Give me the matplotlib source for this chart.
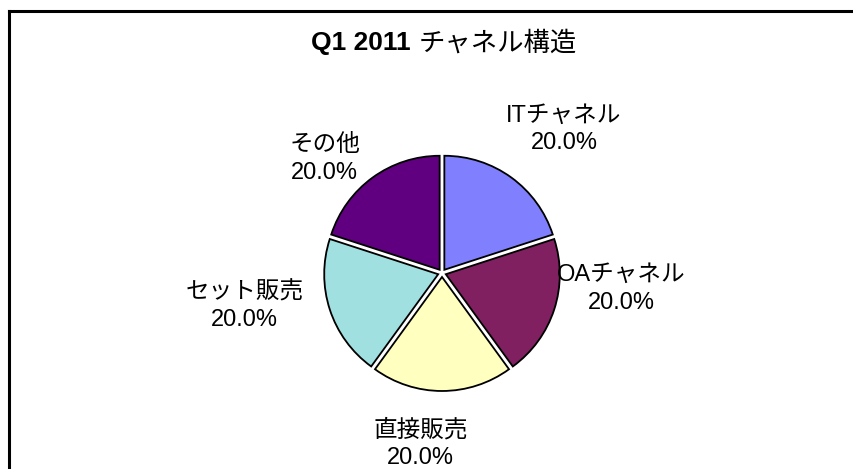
import matplotlib
matplotlib.use("Agg")
import matplotlib.pyplot as plt
from matplotlib.lines import Line2D

plt.rcParams['font.family'] = ['Liberation Sans', 'Noto Sans CJK JP', 'DejaVu Sans']

# ---- data ----
categories = ["ITチャネル", "OAチャネル", "直接販売", "セット販売", "その他"]
values = [20.0, 20.0, 20.0, 20.0, 20.0]
colors = ["#8080FF", "#802060", "#FFFFC0", "#A0E0E0", "#600080"]
title_bold = "Q1 2011 "
title_rest = "チャネル構造"

# ---- style / layout ----
W, H, DPI = 854, 469, 100
CX, CY, R = 442, 273, 114       # pie centre (px from top-left) and radius (px)
HALF = 150                      # half-size of the pie axes in px
label_offsets = [(1.07, 1.26), (1.57, -0.14), (-0.19, -1.50), (-1.73, -0.29), (-1.03, 1.00)]
FS = 17
TFS = 19

fig = plt.figure(figsize=(W / DPI, H / DPI), dpi=DPI)
fig.patch.set_facecolor("white")

ax = fig.add_axes([(CX - HALF) / W, (H - CY - HALF) / H, 2 * HALF / W, 2 * HALF / H])
lim = HALF / R
ax.set_aspect("equal")
ax.axis("off")

wedges, _ = ax.pie(values, colors=colors, startangle=90, counterclock=False,
                   explode=[0.035] * len(values), radius=1.0,
                   wedgeprops=dict(edgecolor="black", linewidth=1.3))
ax.set_xlim(-lim, lim)
ax.set_ylim(-lim, lim)

total = sum(values)
for name, v, (dx, dy) in zip(categories, values, label_offsets):
    ax.text(dx, dy, f"{name}\n{v / total * 100:.1f}%", ha="center", va="center",
            multialignment="center", fontsize=FS, color="black", clip_on=False,
            linespacing=1.32)

# frame lines (top and left only, as in the reference)
ty = 1 - 11 / H
lx = 8.5 / W
fig.add_artist(Line2D([lx, 1.0], [ty, ty], transform=fig.transFigure, color="black", linewidth=2.2))
fig.add_artist(Line2D([lx, lx], [ty, 0.0], transform=fig.transFigure, color="black", linewidth=2.2))

# title with bold latin part and regular japanese part, centred as a whole
tcx, tcy = 444 / W, 1 - 43 / H
t1 = fig.text(0, tcy, title_bold, fontsize=TFS, fontweight="bold", ha="left", va="center")
t2 = fig.text(0, tcy, title_rest, fontsize=TFS, fontweight="normal", ha="left", va="center")
fig.canvas.draw()
r = fig.canvas.get_renderer()
w1 = t1.get_window_extent(r).width / W
w2 = t2.get_window_extent(r).width / W
x0 = tcx - (w1 + w2) / 2
t1.set_x(x0)
t2.set_x(x0 + w1)

fig.savefig("out.png", dpi=DPI, facecolor="white")
